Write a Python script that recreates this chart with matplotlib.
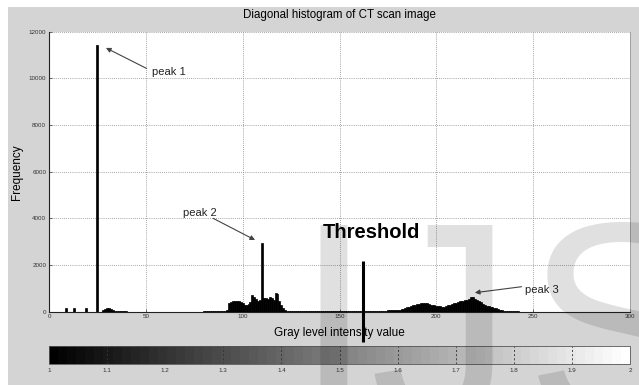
import matplotlib
matplotlib.use("Agg")
import matplotlib.pyplot as plt
from matplotlib.patches import Rectangle
from matplotlib.colors import Normalize
import matplotlib.colorbar as mcolorbar

plt.rcParams['font.family'] = ['Liberation Sans', 'DejaVu Sans']

# ---------------- data ----------------
low_levels = [9, 13, 19, 25]
low_counts = [170, 170, 170, 11450]

tail1_start = 28
tail1_counts = [60, 120, 150, 140, 100, 70, 50, 40, 40, 30, 30, 30, 20]

mid_start = 80
mid_counts = [30, 30, 35, 35, 40, 40, 40, 40, 40, 40, 45, 50, 60,
              380, 430, 450, 460, 450, 440, 420, 380, 300, 280, 350, 420,
              700, 650, 550, 480, 500, 2950, 580, 600, 560, 620, 580, 520,
              800, 780, 450, 300, 150, 80, 50, 40, 40, 35, 30, 30, 25, 20,
              18, 15, 15, 14, 15, 16, 15, 14, 13, 15, 15, 14, 15, 16, 15, 14,
              15, 15, 14, 13, 15, 16, 15, 14, 15, 15, 16, 15, 14, 15, 15, 16,
              15, 14]

high_start = 165
high_counts = [20, 20, 25, 25, 30, 30, 35, 40, 45, 50, 55, 60, 65, 70, 75, 85,
               90, 110, 130, 160, 190, 220, 250, 280, 300, 320, 340, 360, 380, 390, 380,
               340, 300, 290, 280, 260, 240, 225, 215, 220, 240,
               270, 300, 330, 360, 390, 420, 440, 460, 480, 500, 520, 560,
               620, 610, 560, 500, 450, 400, 330, 290, 260, 240, 220, 200, 170, 140,
               110, 80, 60, 40, 25,
               15, 15, 12, 12, 10, 10, 8, 8, 5]

threshold_level = 162
threshold_top = 2180
threshold_bottom = -1285

x_ticks = [0, 50, 100, 150, 200, 250, 300]
y_ticks = [0, 2000, 4000, 6000, 8000, 10000, 12000]
cbar_ticks = [1, 1.1, 1.2, 1.3, 1.4, 1.5, 1.6, 1.7, 1.8, 1.9, 2]
cbar_labels = ['1', '1.1', '1.2', '1.3', '1.4', '1.5', '1.6', '1.7', '1.8', '1.9', '2']

# annotations: (text, text_xy, arrow_tail, arrow_head)
peaks = [
    ("peak 1", (53.2, 10280), (50.4, 10424), (29.4, 11306)),
    ("peak 2", (69.3, 4240), (84.8, 4000), (106.4, 3071)),
    ("peak 3", (245.7, 929), (244.0, 1071), (219.9, 814)),
]

# ---------------- figure ----------------
W, H = 639, 385
fig = plt.figure(figsize=(W / 100, H / 100), dpi=100)
fig.patch.set_facecolor('white')
fig.patches.append(Rectangle((8 / W, 0), 1 - 8 / W, 1 - 7 / H, transform=fig.transFigure,
                             facecolor='#d4d4d4', edgecolor='none', zorder=-10))

ax = fig.add_axes([49 / W, (H - 311.7) / H, 581 / W, 280 / H])
ax.set_facecolor('white')

levels = low_levels \
    + [tail1_start + i for i in range(len(tail1_counts))] \
    + [mid_start + i for i in range(len(mid_counts))] \
    + [high_start + i for i in range(len(high_counts))]
counts = low_counts + tail1_counts + mid_counts + high_counts
ax.bar(levels, counts, width=1.0, color='black', edgecolor='black', linewidth=0.5, zorder=3)

ax.set_xlim(0, 300)
ax.set_ylim(0, 12000)
ax.set_xticks(x_ticks)
ax.set_yticks(y_ticks)
ax.tick_params(labelsize=4.5, colors='#333333', length=2, width=0.5, direction='in', pad=2)
ax.grid(True, linestyle=(0, (1, 1.5)), color='#888888', linewidth=0.6)
ax.set_axisbelow(True)
for s in ['left', 'bottom']:
    ax.spines[s].set_color('#222222')
    ax.spines[s].set_linewidth(0.8)
ax.spines['top'].set_visible(False)
ax.spines['right'].set_color('#999999')
ax.spines['right'].set_linewidth(0.6)

ax.set_ylabel('Frequency', fontsize=8.5)
ax.yaxis.set_label_coords(-26 / 581, 0.5)
ax.set_xlabel('Gray level intensity value', fontsize=8.5)
ax.xaxis.set_label_coords(0.5, -15 / 280)

fig.text(339.5 / W, 1 - 15 / H, 'Diagonal histogram of CT scan image', fontsize=8.3,
         ha='center', va='center')

for label, txy, tail, head in peaks:
    ax.annotate('', xy=head, xytext=tail,
                arrowprops=dict(arrowstyle='-|>', color='#444444', lw=0.8,
                                mutation_scale=7, shrinkA=0, shrinkB=0))
    ax.text(txy[0], txy[1], label, fontsize=8, ha='left', va='center', color='#222222')

ax.plot([threshold_level, threshold_level], [threshold_bottom, threshold_top],
        color='black', lw=2.2, clip_on=False, zorder=6, solid_capstyle='butt')
ax.text(166.6, 3414, 'Threshold', fontsize=14.5, fontweight='bold', ha='center',
        va='center', zorder=6)

# colorbar
cax = fig.add_axes([49 / W, (H - 364) / H, 581 / W, 18.3 / H])
cb = mcolorbar.ColorbarBase(cax, cmap=plt.get_cmap('gray', 64), norm=Normalize(1, 2),
                            orientation='horizontal')
cb.set_ticks(cbar_ticks)
cb.set_ticklabels(cbar_labels)
cax.tick_params(labelsize=4.5, colors='#333333', length=0, pad=3)
cax.vlines(cbar_ticks, 0, 1, transform=cax.get_xaxis_transform(), colors='#333333',
           linestyles=(0, (2.5, 2.5)), linewidth=0.6)
cb.outline.set_edgecolor('#555555')
cb.outline.set_linewidth(0.6)

# watermark
wm = dict(fontsize=207, color='black', alpha=0.12, ha='left', va='baseline', zorder=10)
fig.text(293.5 / W, 1 - 423 / H, 'I', **wm)
fig.text(370 / W, 1 - 423 / H, 'J', **wm)
fig.text(525 / W, 1 - 423 / H, 'S', **wm)

fig.savefig('out.png', dpi=100, facecolor=fig.get_facecolor())
